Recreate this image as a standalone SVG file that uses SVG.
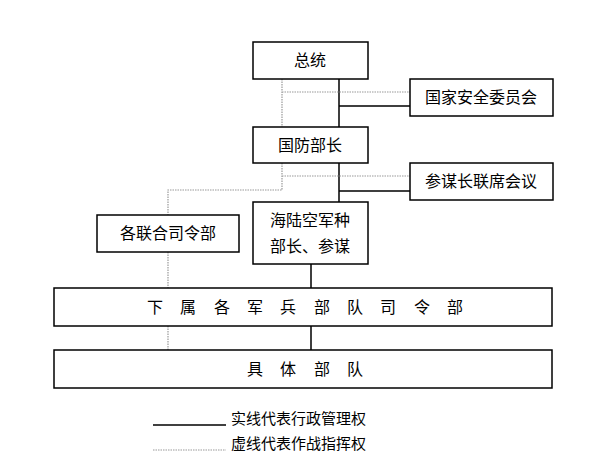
<svg xmlns="http://www.w3.org/2000/svg" width="600" height="475" viewBox="0 0 600 475">
<style>
.b{fill:#fff;stroke:#000;stroke-width:1.5}
.t{font-family:"Noto Sans CJK SC","Noto Sans",sans-serif;font-size:16px;fill:#000;text-anchor:middle}
.s{stroke:#000;stroke-width:1.5;fill:none}
.d{stroke:#999;stroke-width:1.2;stroke-dasharray:1.5 1;fill:none}
</style>
<rect width="600" height="475" fill="#fff"/>
<g id="connectors">
<path class="s" d="M339 79V127M339 106H410M339 163V202M339 191H410M311 264V288M311 326V350"/>
<path class="d" d="M282 79V127M282 92H410M282 163V190H168V215M282 176H410M168 252V288M168 326V350"/>
</g>
<g id="n1"><rect class="b" x="253" y="42" width="115" height="37"/><text class="t" x="310" y="66">总统</text></g>
<g id="n2"><rect class="b" x="410" y="79" width="143" height="37"/><text class="t" x="481" y="103">国家安全委员会</text></g>
<g id="n3"><rect class="b" x="253" y="127" width="115" height="36"/><text class="t" x="310" y="151">国防部长</text></g>
<g id="n4"><rect class="b" x="410" y="163" width="143" height="37"/><text class="t" x="481" y="187">参谋长联席会议</text></g>
<g id="n5"><rect class="b" x="97" y="215" width="142" height="37"/><text class="t" x="168" y="239">各联合司令部</text></g>
<g id="n6"><rect class="b" x="253" y="202" width="115" height="62"/><text class="t" x="310" y="226">海陆空军种</text><text class="t" x="310" y="252">部长、参谋</text></g>
<g id="n7"><rect class="b" x="54" y="288" width="498" height="38"/><text class="t" x="155 188 222 255 288 322 355 388 422 455" y="313">下属各军兵部队司令部</text></g>
<g id="n8"><rect class="b" x="54" y="350" width="498" height="38"/><text class="t" x="255 288 322 355" y="375">具体部队</text></g>
<g id="legend">
<line class="s" x1="153" y1="425" x2="226" y2="425"/>
<line class="d" x1="153" y1="450" x2="226" y2="450"/>
<text class="t" x="231" y="424" style="text-anchor:start;font-size:15px">实线代表行政管理权</text>
<text class="t" x="231" y="449" style="text-anchor:start;font-size:15px">虚线代表作战指挥权</text>
</g>
</svg>
